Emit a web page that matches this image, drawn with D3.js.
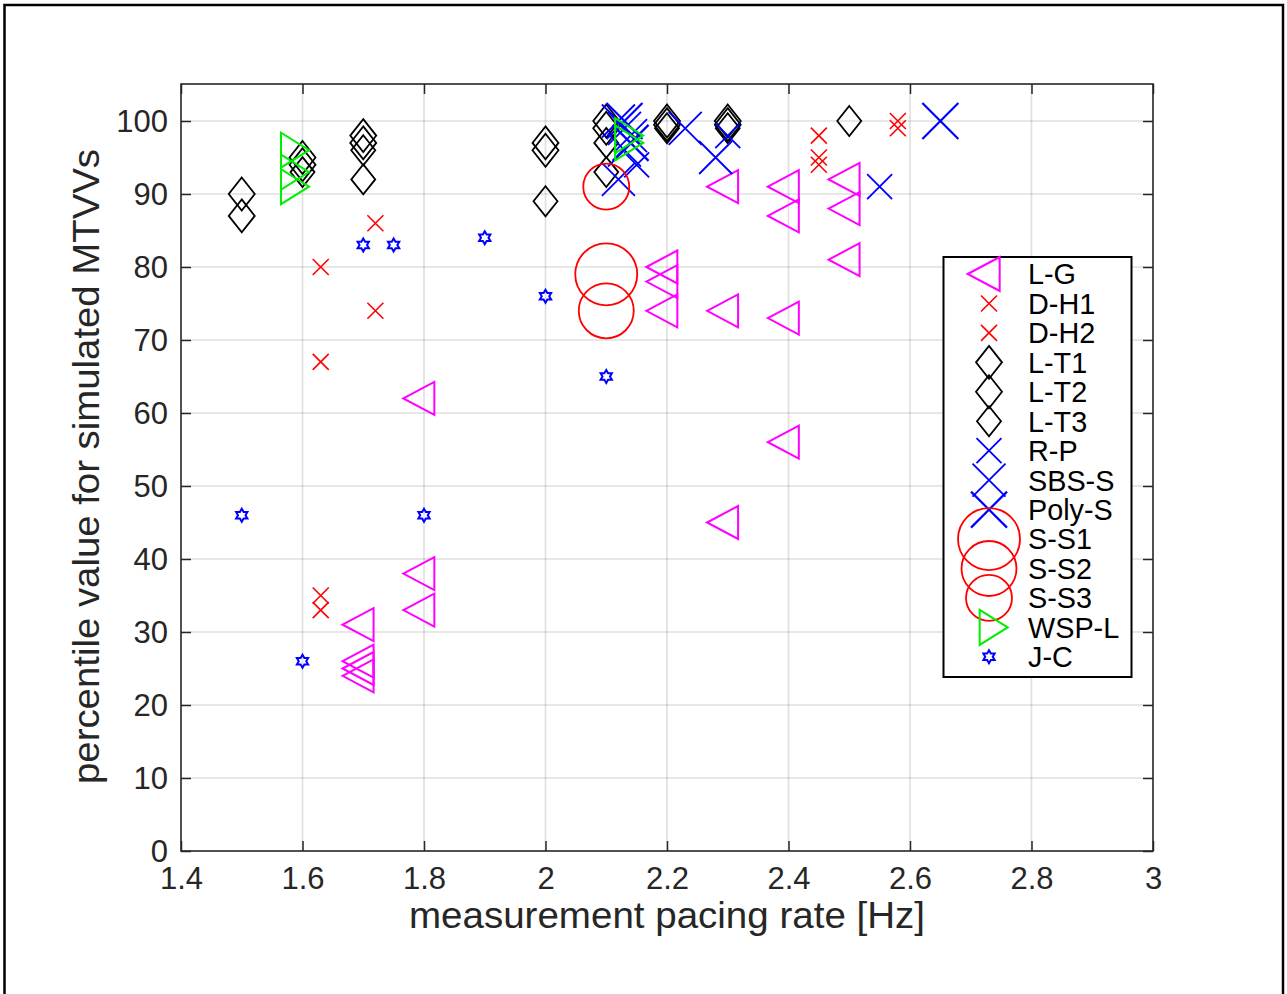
<!DOCTYPE html>
<html><head><meta charset="utf-8">
<script src="https://cdn.jsdelivr.net/npm/d3@7"></script>
<style>
body{margin:0;background:#fff;}
text{font-family:"Liberation Sans",Arial,Helvetica,sans-serif;}
</style>
</head><body>
<svg id="chart" width="1287" height="994"></svg>
<script>
// ---------- data ----------
const xTicks = [1.4, 1.6, 1.8, 2, 2.2, 2.4, 2.6, 2.8, 3];
const xTickLabels = ["1.4", "1.6", "1.8", "2", "2.2", "2.4", "2.6", "2.8", "3"];
const yTicks = [0, 10, 20, 30, 40, 50, 60, 70, 80, 90, 100];
const yTickLabels = ["0", "10", "20", "30", "40", "50", "60", "70", "80", "90", "100"];
const xLabel = "measurement pacing rate [Hz]";
const yLabel = "percentile value for simulated MTVVs";

const seriesNames = ["L-G", "D-H1", "D-H2", "L-T1", "L-T2", "L-T3", "R-P", "SBS-S", "Poly-S", "S-S1", "S-S2", "S-S3", "WSP-L", "J-C"];

const lgX = [1.7, 1.7, 1.7, 1.7, 1.8, 1.8, 1.8, 2.2, 2.2, 2.2, 2.3, 2.3, 2.3, 2.4, 2.4, 2.4, 2.4, 2.5, 2.5, 2.5];
const lgY = [31, 26, 25, 24, 38, 33, 62, 80, 78, 74, 91, 74, 45, 91, 87, 73, 56, 92, 88, 81];
const dh1X = [1.63, 1.63, 1.72, 1.72, 2.45];
const dh1Y = [80, 67, 86, 74, 98];
const dh2X = [1.63, 1.63, 2.45, 2.45, 2.58, 2.58];
const dh2Y = [35, 33, 95, 94, 100, 99];
const lt1X = [1.5, 1.6, 1.7, 2.0, 2.1, 2.2, 2.3];
const lt1Y = [90, 95, 98, 97, 100, 100, 100];
const lt2X = [1.5, 1.6, 1.7, 2.0, 2.1, 2.2, 2.3];
const lt2Y = [87, 94, 97, 96, 99, 99.5, 99.5];
const lt3X = [1.6, 1.7, 1.7, 2.0, 2.1, 2.1, 2.2, 2.3, 2.5];
const lt3Y = [93, 96, 92, 89, 97, 93, 99, 99, 100];
const rpX = [2.15, 2.3, 2.55];
const rpY = [94, 98, 91];
const sbsX = [2.12, 2.13, 2.14, 2.13, 2.12, 2.23, 2.28];
const sbsY = [100, 99, 98, 96, 92, 99, 95];
const polyX = [2.13, 2.14, 2.65];
const polyY = [100, 97, 100];
const ss1X = [2.1], ss1Y = [79];
const ss2X = [2.1], ss2Y = [74];
const ss3X = [2.1], ss3Y = [91];
const wspX = [1.58, 1.58, 1.58, 2.13, 2.13];
const wspY = [96, 93, 91, 98, 97];
const jcX = [1.5, 1.6, 1.7, 1.75, 1.8, 1.9, 2.0, 2.1];
const jcY = [46, 26, 83, 83, 46, 84, 76, 65];

const seriesX = [lgX, dh1X, dh2X, lt1X, lt2X, lt3X, rpX, sbsX, polyX, ss1X, ss2X, ss3X, wspX, jcX];
const seriesY = [lgY, dh1Y, dh2Y, lt1Y, lt2Y, lt3Y, rpY, sbsY, polyY, ss1Y, ss2Y, ss3Y, wspY, jcY];

// ---------- marker shapes ----------
function triLeft(w, h) { return `M${-2*w/3},0L${w/3},${-h/2}L${w/3},${h/2}Z`; }
function triRight(w, h) { return `M${2*w/3},0L${-w/3},${-h/2}L${-w/3},${h/2}Z`; }
function diamond(w, h) { return `M0,${-h/2}L${w/2},0L0,${h/2}L${-w/2},0Z`; }
function cross(s) { return `M${-s},${-s}L${s},${s}M${-s},${s}L${s},${-s}`; }
function circle(r) { return `M${r},0A${r},${r} 0 1,1 ${-r},0A${r},${r} 0 1,1 ${r},0Z`; }
function hexagram(R) {
  const r = R / Math.sqrt(3);
  let p = "";
  for (let i = 0; i < 12; i++) {
    const a = -Math.PI / 2 + i * Math.PI / 6;
    const rr = i % 2 === 0 ? R : r;
    p += (i === 0 ? "M" : "L") + (rr * Math.cos(a)).toFixed(2) + "," + (rr * Math.sin(a)).toFixed(2);
  }
  return p + "Z";
}

const styles = [
  {path: triLeft(31, 33), color: "#ff00ff", lw: 2},
  {path: cross(8), color: "#ff0000", lw: 1.6},
  {path: cross(8), color: "#ff0000", lw: 1.6},
  {path: diamond(26, 33), color: "#000000", lw: 1.8},
  {path: diamond(26, 33), color: "#000000", lw: 1.8},
  {path: diamond(24, 30), color: "#000000", lw: 1.8},
  {path: cross(12.5), color: "#0000ff", lw: 1.8},
  {path: cross(16.5), color: "#0000ff", lw: 1.8},
  {path: cross(18), color: "#0000ff", lw: 2.2},
  {path: circle(31), color: "#ff0000", lw: 1.8},
  {path: circle(27.5), color: "#ff0000", lw: 1.8},
  {path: circle(23), color: "#ff0000", lw: 1.8},
  {path: triRight(28, 35), color: "#00ee00", lw: 2},
  {path: hexagram(6.5), color: "#0000ff", lw: 2}
];
const legendStyles = styles.map((s, i) => i === 0 ? {...s, path: triLeft(32, 34)} : s);

// ---------- layout ----------
const svg = d3.select("#chart");
const L = 181, R = 1153, T = 84, B = 851;
const x = d3.scaleLinear().domain([1.4, 3]).range([L, R]);
const y = d3.scaleLinear().domain([0, 100]).range([B, 121]);

svg.append("rect").attr("x", 0).attr("y", 0).attr("width", 1287).attr("height", 994).attr("fill", "#fff");
// figure frame
svg.append("rect").attr("x", 4.5).attr("y", 5).attr("width", 1278.5).attr("height", 1010)
  .attr("fill", "none").attr("stroke", "#000").attr("stroke-width", 2.5);

// axes background
svg.append("rect").attr("x", L).attr("y", T).attr("width", R - L).attr("height", B - T).attr("fill", "#fff");

// grid
const grid = svg.append("g").attr("stroke", "#262626").attr("stroke-opacity", 0.15).attr("stroke-width", 1.6);
grid.selectAll("line.gx").data(xTicks.slice(1, -1)).enter().append("line")
  .attr("x1", d => x(d)).attr("x2", d => x(d)).attr("y1", T).attr("y2", B);
grid.selectAll("line.gy").data(yTicks.filter(v => y(v) > T + 1 && y(v) < B - 1)).enter().append("line")
  .attr("y1", d => y(d)).attr("y2", d => y(d)).attr("x1", L).attr("x2", R);

// axes via d3.axis (ticks inward)
const axColor = "#262626";
function styleAxis(g) {
  g.select(".domain").remove();
  g.selectAll(".tick line").attr("stroke", axColor).attr("stroke-width", 1.5);
  g.selectAll(".tick text").attr("fill", axColor).attr("font-size", 31);
}
const xAxis = d3.axisBottom(x).tickValues(xTicks).tickFormat((d, i) => xTickLabels[i]).tickSizeInner(-10).tickPadding(28);
const gx = svg.append("g").attr("transform", `translate(0,${B})`).call(xAxis).call(styleAxis);
gx.selectAll(".tick text").attr("dy", null).attr("y", 38);
const xAxisTop = d3.axisTop(x).tickValues(xTicks).tickFormat("").tickSizeInner(-10);
svg.append("g").attr("transform", `translate(0,${T})`).call(xAxisTop).call(styleAxis);

const yAxis = d3.axisLeft(y).tickValues(yTicks).tickFormat((d, i) => yTickLabels[i]).tickSizeInner(-10).tickPadding(14);
const gy = svg.append("g").attr("transform", `translate(${L},0)`).call(yAxis).call(styleAxis);
gy.selectAll(".tick text").attr("x", -13).attr("dy", "0.34em");
const yAxisRight = d3.axisRight(y).tickValues(yTicks).tickFormat("").tickSizeInner(-10);
svg.append("g").attr("transform", `translate(${R},0)`).call(yAxisRight).call(styleAxis);

// box
svg.append("rect").attr("x", L).attr("y", T).attr("width", R - L).attr("height", B - T)
  .attr("fill", "none").attr("stroke", axColor).attr("stroke-width", 1.6);

// markers
seriesNames.forEach((name, i) => {
  const st = styles[i];
  const pts = seriesX[i].map((vx, j) => [vx, seriesY[i][j]]);
  svg.append("g").selectAll("path").data(pts).enter().append("path")
    .attr("d", st.path)
    .attr("transform", d => `translate(${x(d[0])},${y(d[1])})`)
    .attr("fill", "none").attr("stroke", st.color).attr("stroke-width", st.lw)
    .attr("stroke-linejoin", "miter");
});

// labels
svg.append("text").attr("x", 667).attr("y", 928).attr("text-anchor", "middle")
  .attr("font-size", 37.5).attr("textLength", 516).attr("lengthAdjust", "spacingAndGlyphs")
  .attr("fill", axColor).text(xLabel);
svg.append("text").attr("transform", `translate(99,466.5) rotate(-90)`).attr("text-anchor", "middle")
  .attr("font-size", 37.5).attr("textLength", 635).attr("lengthAdjust", "spacingAndGlyphs")
  .attr("fill", axColor).text(yLabel);

// legend
const lg = svg.append("g");
lg.append("rect").attr("x", 943.5).attr("y", 257).attr("width", 188).attr("height", 420)
  .attr("fill", "#fff").attr("stroke", "#000").attr("stroke-width", 2);
seriesNames.forEach((name, i) => {
  const yy = 274 + i * 29.45;
  const st = legendStyles[i];
  lg.append("path").attr("d", st.path).attr("transform", `translate(989,${yy})`)
    .attr("fill", "none").attr("stroke", st.color).attr("stroke-width", st.lw);
  lg.append("text").attr("x", 1028).attr("y", yy).attr("dy", "0.36em")
    .attr("font-size", 28.8).attr("fill", "#000").text(name);
});
</script>
</body></html>
